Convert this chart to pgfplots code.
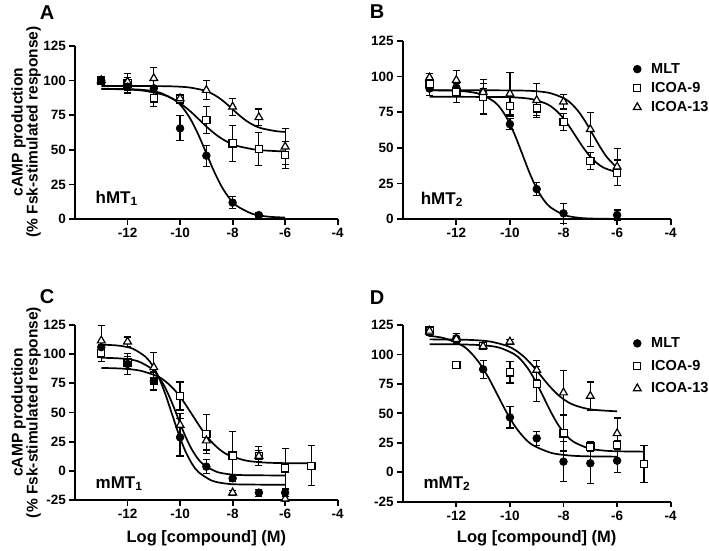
\documentclass[border=0pt]{standalone}
\usepackage{fontspec}
\setmainfont{Liberation Sans}
\usepackage{pgfplots}
\pgfplotsset{compat=1.18}
\tikzset{lbl/.style={font=\fontsize{17}{19}\selectfont\bfseries, anchor=base west, inner sep=0pt}}
\pgfplotsset{
  prism/.style={
    scale only axis,
    axis x line*=bottom, axis y line*=left,
    axis line style={line width=2pt, black},
    xmin=-14, xmax=-4,
    xtick={-12,-10,-8,-6,-4},
    tick align=outside,
    major tick length=5.5pt,
    every tick/.style={black, line width=1.8pt},
    tick label style={font=\fontsize{13.5}{15}\selectfont\bfseries},
    /pgf/number format/assume math mode=true,
    clip=false,
    legend image code/.code={\draw[##1] plot coordinates {(0pt,0pt)};},
  },
  curve/.style={black, line width=1.7pt, smooth, tension=0.5, no marks, forget plot},
  ebar/.style={error bars/.cd, y dir=both, y explicit,
    error bar style={line width=1.2pt, black},
    error mark options={rotate=90, line width=1.2pt, mark size=3.6pt, black}},
  mlt/.style={black, only marks, mark=*, mark size=3.8pt, mark options={fill=black, line width=0.8pt}, ebar},
  icoaN/.style={black, only marks, mark=square*, mark size=3.6pt, mark options={fill=white, line width=1.2pt}, ebar},
  icoaT/.style={black, only marks, mark=triangle*, mark size=4.5pt, mark options={fill=white, line width=1.2pt}, ebar},
  leg/.style={legend style={draw=none, fill=none, font=\fontsize{14.5}{16}\selectfont\bfseries,
     anchor=west, inner sep=0pt, row sep=#1, column sep=9pt,
     nodes={inner sep=1pt, anchor=west}}, legend cell align=left},
}
\begin{document}
\begin{tikzpicture}
%%%%%%%%%%%%%%%%%%%% Panel A
\begin{axis}[prism, at={(75pt,330.7pt)}, anchor=south west, width=262.7pt, height=173.6pt,
  ymin=0, ymax=125, ytick={0,25,50,75,100,125}]
\addplot[curve] coordinates {(-13,94.0) (-11.94,93.70) (-11.353,93.08) (-10.765,91.14) (-10.176,85.55) (-9.882,79.96) (-9.588,71.65) (-9.294,60.52) (-9,47.5) (-8.706,34.48) (-8.412,23.35) (-8.118,15.04) (-7.824,9.45) (-7.235,3.86) (-6.647,1.92) (-6,1.26)};
\addplot[curve] coordinates {(-13,93.9) (-12.821,93.85) (-12.107,93.55) (-11.393,92.61) (-10.679,89.88) (-10.321,87.16) (-9.964,83.11) (-9.607,77.69) (-9.25,71.35) (-8.893,65.01) (-8.536,59.59) (-8.179,55.54) (-7.821,52.82) (-7.107,50.09) (-6.393,49.15) (-6,48.94)};
\addplot[curve] coordinates {(-13,96.0) (-12,96.0) (-10.778,95.89) (-10.222,95.67) (-9.667,94.97) (-9.111,92.95) (-8.833,90.93) (-8.556,87.93) (-8.278,83.90) (-8,79.2) (-7.722,74.50) (-7.444,70.47) (-7.167,67.47) (-6.889,65.45) (-6.333,63.43) (-6,62.92)};
\addplot[icoaN] table[y error=e] {
x y e
-13 100 0.5
-12 97.9 7
-11 87 6
-10 86.4 3
-9 71.5 9.6
-8 54.7 13
-7 50.6 12
-6 46.3 10
};
\addplot[icoaT] table[y error=e] {
x y e
-13 100 0.5
-12 99 3
-11 101.5 8
-10 87 3
-9 93 6.7
-8 81 6
-7 73.4 6
-6 52.3 13
};
\addplot[mlt] table[y error=e] {
x y e
-13 100 0.5
-12 95.5 3
-11 94.3 2
-10 65.5 9
-9 45.8 7.5
-8 12 4.5
-7 3 1.5
};
\node[lbl] at (axis cs:-13.22,11.5) {hMT\textsubscript{1}};
\end{axis}
%%%%%%%%%%%%%%%%%%%% Panel B
\begin{axis}[prism, at={(402.7pt,331pt)}, anchor=south west, width=268pt, height=178pt,
  ymin=0, ymax=125, ytick={0,25,50,75,100,125}, leg=5.5pt,
  legend style={at={(axis cs:-5.40,91.8)}}]
\addplot[curve] coordinates {(-13,90.4) (-12.134,90.11) (-11.613,89.50) (-11.093,87.62) (-10.572,82.18) (-10.311,76.75) (-10.051,68.68) (-9.790,57.86) (-9.53,45.2) (-9.270,32.54) (-9.009,21.72) (-8.749,13.65) (-8.488,8.22) (-7.968,2.78) (-7.447,0.89) (-6.926,0.29) (-6,0.05)};
\addplot[curve] coordinates {(-13,85.8) (-12,85.8) (-10.238,85.62) (-9.701,85.26) (-9.163,84.11) (-8.625,80.80) (-8.356,77.50) (-8.088,72.58) (-7.819,66.0) (-7.55,58.3) (-7.281,50.6) (-7.012,44.02) (-6.744,39.11) (-6.475,35.80) (-6,32.72)};
\addplot[curve] coordinates {(-13,90.4) (-11,90.4) (-9.588,90.20) (-9.051,89.78) (-8.513,88.48) (-7.975,84.73) (-7.706,80.98) (-7.438,75.41) (-7.169,67.94) (-6.9,59.2) (-6.631,50.46) (-6.362,42.99) (-6,35.93)};
\addplot[mlt] table[y error=e] {
x y e
-13 91.6 5
-12 92.3 3
-11 88.6 3
-10 66.6 4
-9 21 4.5
-8 4 7
-6 2.8 3.5
};
\addlegendentry{MLT}
\addplot[icoaN] table[y error=e] {
x y e
-13 95 4
-12 89 7
-11 85.8 12
-10 79.2 7
-9 77.6 5
-8 68.2 6
-7 40.9 6
-6 32.5 9
};
\addlegendentry{ICOA-9}
\addplot[icoaT] table[y error=e] {
x y e
-13 99.3 3
-12 97.5 7
-11 89 6
-10 88 15
-9 83.4 12
-8 82.3 5
-7 63 12
-6 36.7 13
};
\addlegendentry{ICOA-13}
\node[lbl] at (axis cs:-13.33,10.5) {hMT\textsubscript{2}};
\end{axis}
%%%%%%%%%%%%%%%%%%%% Panel C
\begin{axis}[prism, at={(75pt,50pt)}, anchor=south west, width=262.7pt, height=175pt,
  ymin=-25, ymax=125, ytick={-25,0,25,50,75,100,125}]
\addplot[curve] coordinates {(-13,108.2) (-12.8,108.01) (-12.3,107.21) (-11.8,104.70) (-11.3,97.46) (-11.05,90.22) (-10.8,79.47) (-10.55,65.06) (-10.3,48.2) (-10.05,31.34) (-9.8,16.93) (-9.55,6.18) (-9.3,-1.06) (-8.8,-8.30) (-8.3,-10.81) (-7.8,-11.61) (-6,-12.0)};
\addplot[curve] coordinates {(-13,96.9) (-12.6,96.68) (-12.1,96.0) (-11.6,93.9) (-11.1,87.82) (-10.85,81.75) (-10.6,72.73) (-10.35,60.64) (-10.1,46.5) (-9.85,32.36) (-9.6,20.27) (-9.35,11.25) (-9.1,5.18) (-8.6,-0.90) (-8.1,-3.0) (-7.6,-3.68) (-6,-4.0)};
\addplot[curve] coordinates {(-13,88.2) (-12.853,88.14) (-12.187,87.59) (-11.52,85.88) (-10.853,80.95) (-10.52,76.02) (-10.187,68.70) (-9.853,58.88) (-9.52,47.4) (-9.187,35.92) (-8.853,26.10) (-8.52,18.78) (-8.187,13.85) (-7.52,8.92) (-6.853,7.21) (-6.187,6.66) (-5,6.4)};
\addplot[icoaN] table[y error=e] {
x y e
-13 100.7 7
-12 92.7 5
-11 77 7
-10 64.1 12
-9 31.6 17
-8 13 21
-7 12.7 8
-6 2.1 17
-5 4.4 17
};
\addplot[icoaT] table[y error=e] {
x y e
-13 111.6 13
-12 110.7 4
-11 88.7 13
-10 39.3 10
-9 25.9 8
-8 -18.7 2
-7 12.7 5
-6 -24 2
};
\addplot[mlt] table[y error=e] {
x y e
-13 106 4
-12 91.6 9
-11 77 8
-10 28.7 16
-9 3.6 6
-8 -6.4 3
-7 -18.7 3
-6 -18.7 3
};
\node[lbl] at (axis cs:-13.22,-15) {mMT\textsubscript{1}};
\end{axis}
%%%%%%%%%%%%%%%%%%%% Panel D
\begin{axis}[prism, at={(402.7pt,48.3pt)}, anchor=south west, width=268pt, height=176.7pt,
  ymin=-25, ymax=125, ytick={-25,0,25,50,75,100,125}, leg=9pt,
  legend style={at={(axis cs:-5.40,90.2)}}]
\addplot[curve] coordinates {(-13,115.75) (-12.45,113.81) (-11.783,107.57) (-11.45,101.33) (-11.117,92.06) (-10.783,79.63) (-10.45,65.1) (-10.117,50.57) (-9.783,38.14) (-9.45,28.87) (-9.117,22.64) (-8.45,16.39) (-7.783,14.23) (-7.117,13.53) (-6,13.25)};
\addplot[curve] coordinates {(-13,108.6) (-12,108.6) (-11.508,108.31) (-10.952,107.70) (-10.397,105.80) (-9.841,100.32) (-9.563,94.84) (-9.286,86.71) (-9.008,75.80) (-8.73,63.05) (-8.452,50.30) (-8.174,39.39) (-7.897,31.26) (-7.619,25.78) (-7.063,20.30) (-6.508,18.40) (-5.952,17.79) (-5,17.5)};
\addplot[curve] coordinates {(-13,112.8) (-11.975,112.60) (-11.35,112.19) (-10.725,110.91) (-10.1,107.22) (-9.788,103.53) (-9.475,98.05) (-9.163,90.70) (-8.85,82.1) (-8.538,73.50) (-8.225,66.15) (-7.913,60.67) (-7.6,56.98) (-6.975,53.28) (-6,51.72)};
\addplot[mlt] table[y error=e] {
x y e
-13 118.5 2
-12 113.7 4
-11 87.4 7.5
-10 46.6 9
-9 28.8 6
-8 9 17
-7 7.6 17
-6 9.8 10
};
\addlegendentry{MLT}
\addplot[icoaN] table[y error=e] {
x y e
-13 120.2 2
-12 91 0.5
-11 107.2 3
-10 84.8 9
-9 74.9 15
-8 33 15
-7 21.7 4
-6 23.1 4
-5 7 15.5
};
\addlegendentry{ICOA-9}
\addplot[icoaT] table[y error=e] {
x y e
-13 120 2
-12 113 2
-11 107 2
-10 110.8 2
-9 86.8 8
-8 67.6 19
-7 64.7 12
-6 33 13
};
\addlegendentry{ICOA-13}
\node[lbl] at (axis cs:-13.23,-13.6) {mMT\textsubscript{2}};
\end{axis}
%%%%%%%%%%%%%%%%%%%% texts
\begin{scope}[every node/.style={font=\fontsize{20}{22}\selectfont\bfseries}]
\node at (47pt,537pt) {A};
\node at (377pt,538pt) {B};
\node at (47pt,253pt) {C};
\node at (377pt,252pt) {D};
\end{scope}
\begin{scope}[every node/.style={rotate=90, font=\fontsize{15.5}{18}\selectfont\bfseries, inner sep=0pt}]
\node at (18.5pt,418pt) {cAMP production};
\node at (33.5pt,418pt) {(\% Fsk-stimulated response)};
\node at (18.5pt,137.5pt) {cAMP production};
\node at (33.5pt,137.5pt) {(\% Fsk-stimulated response)};
\end{scope}
\begin{scope}[every node/.style={font=\fontsize{16.5}{18}\selectfont\bfseries}]
\node at (206.35pt,12pt) {Log [compound] (M)};
\node at (536.7pt,12pt) {Log [compound] (M)};
\end{scope}
\pgfresetboundingbox
\path[use as bounding box] (0,0) rectangle (709pt,550pt);
\end{tikzpicture}
\end{document}
